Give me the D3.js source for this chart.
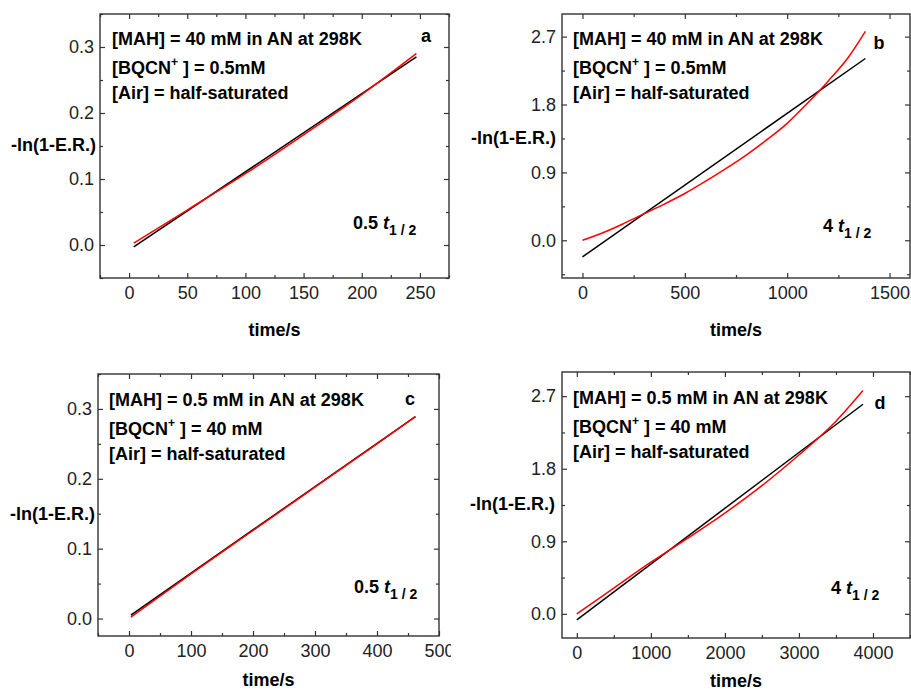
<!DOCTYPE html>
<html>
<head>
<meta charset="utf-8">
<script src="https://cdn.jsdelivr.net/npm/d3@7"></script>
<style>
  body { margin: 0; background: #fff; }
  text { font-family: "Liberation Sans", Arial, sans-serif; }
</style>
</head>
<body>
<script>
// panel a : MAH 40 mM, 0.5 t1/2
const aFitT = [4, 247], aFitY = [-0.003, 0.285]
const aRedT = [4, 50, 100, 150, 200, 247]
const aRedY = [0.003, 0.053, 0.108, 0.167, 0.228, 0.290]
// panel b : MAH 40 mM, 4 t1/2
const bFitT = [0, 1382], bFitY = [-0.22, 2.41]
const bRedT = [0, 100, 200, 300, 400, 500, 600, 700, 800, 900, 1000, 1100, 1200, 1300, 1382]
const bRedY = [0, 0.10, 0.22, 0.35, 0.48, 0.62, 0.78, 0.95, 1.13, 1.33, 1.55, 1.82, 2.11, 2.43, 2.77]
// panel c : MAH 0.5 mM, 0.5 t1/2
const cFitT = [3, 462], cFitY = [0.005, 0.289]
const cRedT = [3, 100, 200, 300, 400, 462]
const cRedY = [0.002, 0.064, 0.126, 0.188, 0.250, 0.289]
// panel d : MAH 0.5 mM, 4 t1/2
const dFitT = [0, 3865], dFitY = [-0.075, 2.60]
const dRedT = [0, 500, 1000, 1500, 2000, 2500, 3000, 3500, 3865]
const dRedY = [0, 0.32, 0.64, 0.94, 1.25, 1.59, 1.97, 2.39, 2.77]

// tick labels
const aXTicks = [0, 50, 100, 150, 200, 250], aYTicks = [0, 0.1, 0.2, 0.3]
const bXTicks = [0, 500, 1000, 1500], bYTicks = [0, 0.9, 1.8, 2.7]
const cXTicks = [0, 100, 200, 300, 400, 500], cYTicks = [0, 0.1, 0.2, 0.3]
const dXTicks = [0, 1000, 2000, 3000, 4000], dYTicks = [0, 0.9, 1.8, 2.7]

const conds = {
  a: ["[MAH] = 40 mM in AN at 298K", "0.5mM"],
  b: ["[MAH] = 40 mM in AN at 298K", "0.5mM"],
  c: ["[MAH] = 0.5 mM in AN at 298K", "40 mM"],
  d: ["[MAH] = 0.5 mM in AN at 298K", "40 mM"]
}
const halfLives = { a: "0.5", b: "4", c: "0.5", d: "4" }

const panels = [
  { id: "a", left: 100, right: 449, top: 14, bottom: 278, xd: [-25, 275], yd: [-0.05, 0.35],
    xt: aXTicks, yt: aYTicks, fitT: aFitT, fitY: aFitY, redT: aRedT, redY: aRedY,
    txt: [112, 45], lab: [426, 42], half: [353, 229], ylab: [11, 151], tlab: 336 },
  { id: "b", left: 562, right: 910, top: 14, bottom: 278, xd: [-100, 1600], yd: [-0.5, 3.0],
    xt: bXTicks, yt: bYTicks, fitT: bFitT, fitY: bFitY, redT: bRedT, redY: bRedY,
    txt: [573, 45], lab: [879, 49], half: [823, 232], ylab: [471, 144], tlab: 336 },
  { id: "c", left: 98, right: 439, top: 374, bottom: 636, xd: [-50, 500], yd: [-0.025, 0.35],
    xt: cXTicks, yt: cYTicks, fitT: cFitT, fitY: cFitY, redT: cRedT, redY: cRedY,
    txt: [109, 406], lab: [410, 405], half: [354, 593], ylab: [10, 520], tlab: 686, clip: 451 },
  { id: "d", left: 562, right: 910, top: 372, bottom: 638, xd: [-200, 4500], yd: [-0.3, 3.0],
    xt: dXTicks, yt: dYTicks, fitT: dFitT, fitY: dFitY, redT: dRedT, redY: dRedY,
    txt: [573, 404], lab: [880, 409], half: [831, 594], ylab: [470, 510], tlab: 687 }
]

const svg = d3.select("body").append("svg").attr("width", 911).attr("height", 691)
const fmtY = d3.format(".1f")

function minorOf(ticks, dom) {
  const step = ticks[1] - ticks[0]
  const out = []
  for (let v = ticks[0] - step * 1.5; v <= dom[1] + 1e-9; v += step)
    if (v >= dom[0] - 1e-9) out.push(+v.toFixed(6))
  return out
}

panels.forEach(p => {
  let g = svg.append("g")
  if (p.clip) {
    svg.append("clipPath").attr("id", "clip-" + p.id)
      .append("rect").attr("x", 0).attr("y", p.top - 20).attr("width", p.clip).attr("height", 400)
    g.attr("clip-path", "url(#clip-" + p.id + ")")
  }
  const x = d3.scaleLinear(p.xd, [p.left, p.right])
  const y = d3.scaleLinear(p.yd, [p.bottom, p.top])
  const xm = minorOf(p.xt, p.xd), ym = minorOf(p.yt, p.yd)

  const axes = [
    [d3.axisBottom(x).tickValues(p.xt).tickFormat(d3.format("d")), `translate(0,${p.bottom})`, 8],
    [d3.axisTop(x).tickValues(p.xt).tickFormat(""), `translate(0,${p.top})`, 0],
    [d3.axisLeft(y).tickValues(p.yt).tickFormat(fmtY), `translate(${p.left},0)`, 6],
    [d3.axisRight(y).tickValues(p.yt).tickFormat(""), `translate(${p.right},0)`, 0]
  ]
  axes.forEach(([ax, tr, pad]) => {
    const a = g.append("g").attr("transform", tr).call(ax.tickSizeInner(-5).tickSizeOuter(0).tickPadding(pad))
    a.select(".domain").remove()
    a.selectAll("line").attr("stroke", "#333").attr("stroke-width", 1.2)
    a.selectAll("text").style("font-size", "18px").attr("fill", "#222")
    a.attr("font-size", null).attr("font-family", null)
  })
  const minors = [
    [d3.axisBottom(x).tickValues(xm), `translate(0,${p.bottom})`],
    [d3.axisTop(x).tickValues(xm), `translate(0,${p.top})`],
    [d3.axisLeft(y).tickValues(ym), `translate(${p.left},0)`],
    [d3.axisRight(y).tickValues(ym), `translate(${p.right},0)`]
  ]
  minors.forEach(([ax, tr]) => {
    const a = g.append("g").attr("transform", tr).call(ax.tickSizeInner(-3).tickSizeOuter(0).tickFormat(""))
    a.select(".domain").remove()
    a.selectAll("line").attr("stroke", "#333").attr("stroke-width", 1.2)
  })

  g.append("rect").attr("x", p.left).attr("y", p.top)
    .attr("width", p.right - p.left).attr("height", p.bottom - p.top)
    .attr("fill", "none").attr("stroke", "#333").attr("stroke-width", 1.4)

  // linear fit (black) and data (red)
  const line = d3.line().x(d => x(d[0])).y(d => y(d[1]))
  g.append("path").datum(d3.zip(p.fitT, p.fitY)).attr("d", line)
    .attr("fill", "none").attr("stroke", "#000").attr("stroke-width", 1.5)
  g.append("path").datum(d3.zip(p.redT, p.redY)).attr("d", line.curve(d3.curveMonotoneX))
    .attr("fill", "none").attr("stroke", "#f00").attr("stroke-width", 1.5)

  // condition text
  const c = conds[p.id]
  const t = g.append("g").attr("font-weight", "bold").attr("font-size", 18).attr("fill", "#000")
  t.append("text").attr("x", p.txt[0]).attr("y", p.txt[1]).text(c[0])
  const t2 = t.append("text").attr("x", p.txt[0]).attr("y", p.txt[1] + 28.5)
  t2.append("tspan").text("[BQCN")
  t2.append("tspan").attr("font-size", 12).attr("dy", -8).text("+")
  t2.append("tspan").attr("dy", 8).text(" ] = " + c[1])
  t.append("text").attr("x", p.txt[0]).attr("y", p.txt[1] + 54).text("[Air] = half-saturated")

  t.append("text").attr("x", p.lab[0]).attr("y", p.lab[1]).attr("text-anchor", "middle").text(p.id)

  const h = t.append("text").attr("x", p.half[0]).attr("y", p.half[1])
  h.append("tspan").text(halfLives[p.id] + " ")
  h.append("tspan").attr("font-style", "italic").text("t")
  h.append("tspan").attr("font-size", 14).attr("dy", 6).text("1 / 2")

  t.append("text").attr("x", p.ylab[0]).attr("y", p.ylab[1]).text("-ln(1-E.R.)")
  t.append("text").attr("x", (p.left + p.right) / 2).attr("y", p.tlab).attr("text-anchor", "middle").text("time/s")
})
</script>
</body>
</html>
